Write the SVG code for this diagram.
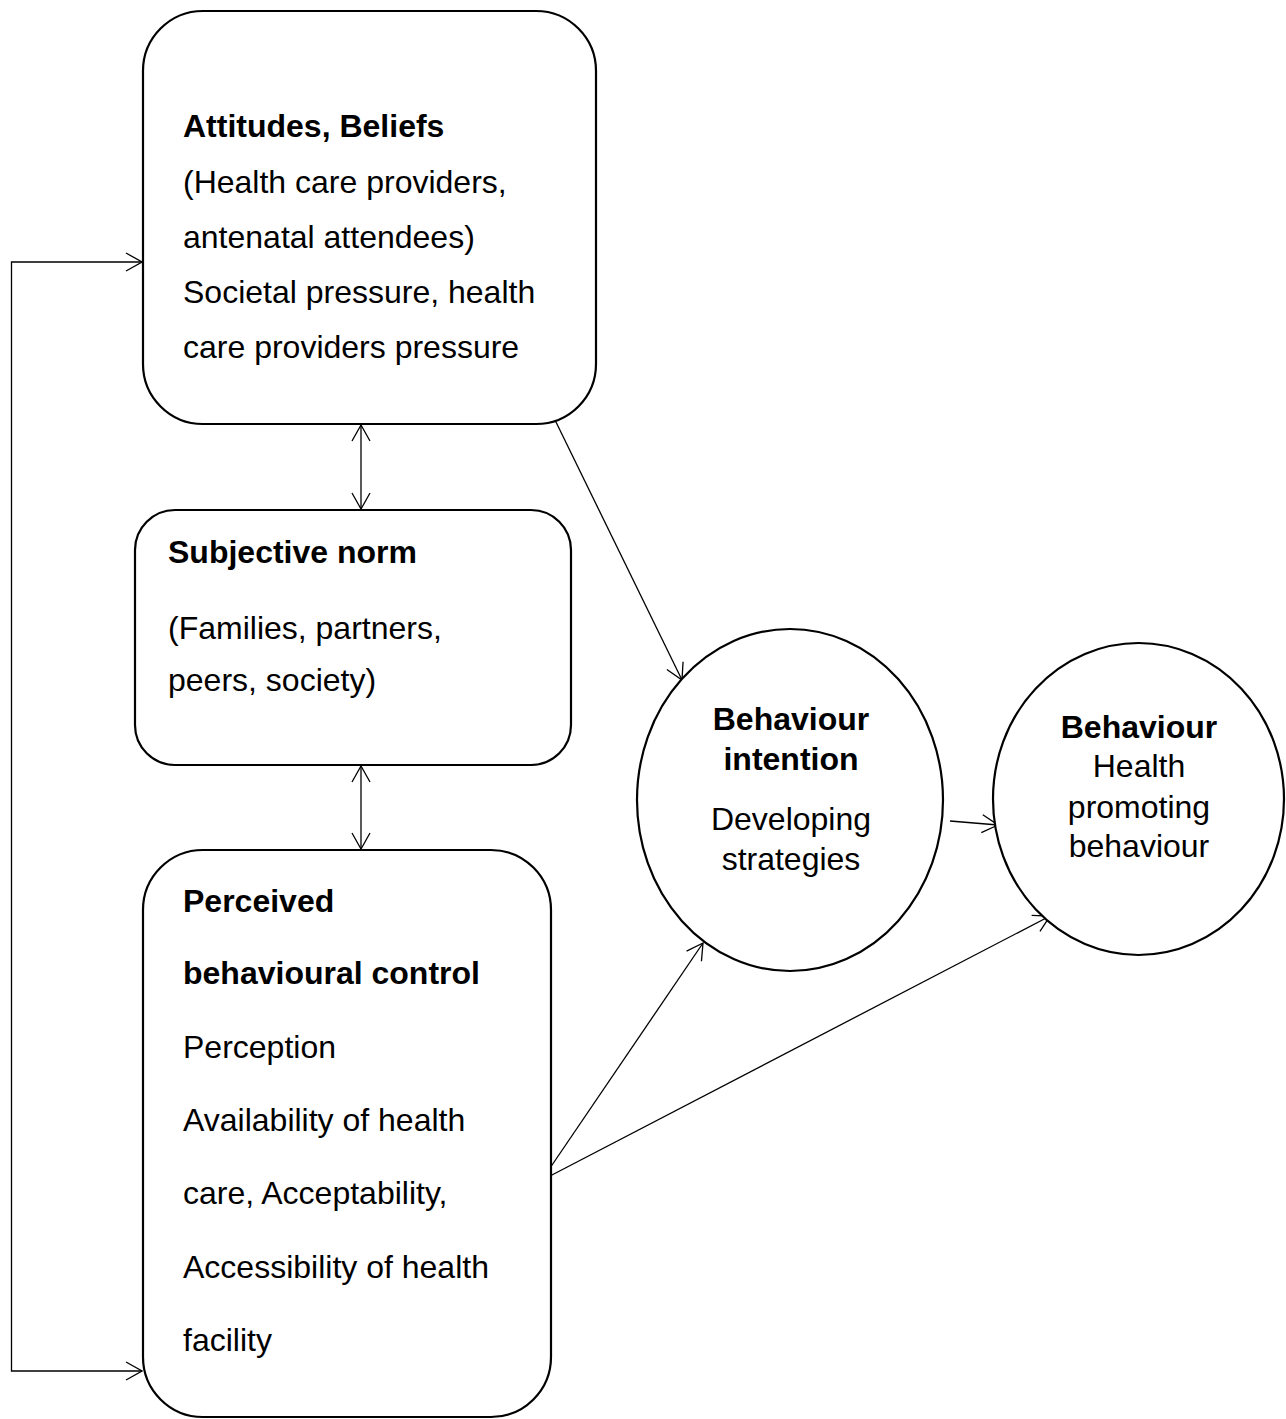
<svg xmlns="http://www.w3.org/2000/svg" width="1286" height="1419" viewBox="0 0 1286 1419">
  <style>
    .box { fill: #ffffff; stroke: #000000; stroke-width: 2.2; }
    .lbl { font-family: "Liberation Sans", Arial, sans-serif; font-size: 32px; fill: #000000; }
    .b { font-weight: bold; }
    .mid { text-anchor: middle; }
    .edge { fill: none; stroke: #000000; stroke-width: 1.3; }
  </style>
  <defs>
    <marker id="head" viewBox="0 0 18 20" refX="17" refY="10" markerWidth="18" markerHeight="20" markerUnits="userSpaceOnUse" orient="auto-start-reverse">
      <path d="M1,1 L17,10 L1,19" fill="none" stroke="#000000" stroke-width="1.3"/>
    </marker>
  </defs>
  <rect width="1286" height="1419" fill="#ffffff"/>

  <!-- connectors -->
  <g id="connectors">
    <polyline class="edge" points="142,262 11.5,262 11.5,1371 142,1371" marker-start="url(#head)" marker-end="url(#head)"/>
    <line class="edge" x1="361" y1="425" x2="361" y2="509" marker-start="url(#head)" marker-end="url(#head)"/>
    <line class="edge" x1="361" y1="766" x2="361" y2="849" marker-start="url(#head)" marker-end="url(#head)"/>
    <line class="edge" x1="555" y1="420" x2="682" y2="680" marker-end="url(#head)"/>
    <line class="edge" x1="550" y1="1168" x2="703" y2="943" marker-end="url(#head)"/>
    <line class="edge" x1="550" y1="1176" x2="1050" y2="916" marker-end="url(#head)"/>
    <line class="edge" x1="950" y1="821" x2="998" y2="825" marker-end="url(#head)"/>
  </g>

  <g id="attitudes">
    <rect class="box" x="143" y="11" width="453" height="413" rx="60" ry="60"/>
    <text class="lbl b" x="183" y="137">Attitudes, Beliefs</text>
    <text class="lbl" x="183" y="193">(Health care providers,</text>
    <text class="lbl" x="183" y="248">antenatal attendees)</text>
    <text class="lbl" x="183" y="303">Societal pressure, health</text>
    <text class="lbl" x="183" y="358">care providers pressure</text>
  </g>

  <g id="subjective-norm">
    <rect class="box" x="135" y="510" width="436" height="255" rx="40" ry="40"/>
    <text class="lbl b" x="168" y="563">Subjective norm</text>
    <text class="lbl" x="168" y="639">(Families, partners,</text>
    <text class="lbl" x="168" y="691">peers, society)</text>
  </g>

  <g id="perceived-control">
    <rect class="box" x="143" y="850" width="408" height="567" rx="60" ry="60"/>
    <text class="lbl b" x="183" y="912">Perceived</text>
    <text class="lbl b" x="183" y="984">behavioural control</text>
    <text class="lbl" x="183" y="1058">Perception</text>
    <text class="lbl" x="183" y="1131">Availability of health</text>
    <text class="lbl" x="183" y="1204">care, Acceptability,</text>
    <text class="lbl" x="183" y="1278">Accessibility of health</text>
    <text class="lbl" x="183" y="1351">facility</text>
  </g>

  <g id="behaviour-intention">
    <ellipse class="box" cx="790" cy="800" rx="153" ry="171"/>
    <text class="lbl b mid" x="791" y="730">Behaviour</text>
    <text class="lbl b mid" x="791" y="770">intention</text>
    <text class="lbl mid" x="791" y="830">Developing</text>
    <text class="lbl mid" x="791" y="870">strategies</text>
  </g>

  <g id="behaviour">
    <ellipse class="box" cx="1138.5" cy="799" rx="145.5" ry="156"/>
    <text class="lbl b mid" x="1139" y="738">Behaviour</text>
    <text class="lbl mid" x="1139" y="777">Health</text>
    <text class="lbl mid" x="1139" y="818">promoting</text>
    <text class="lbl mid" x="1139" y="857">behaviour</text>
  </g>
</svg>
